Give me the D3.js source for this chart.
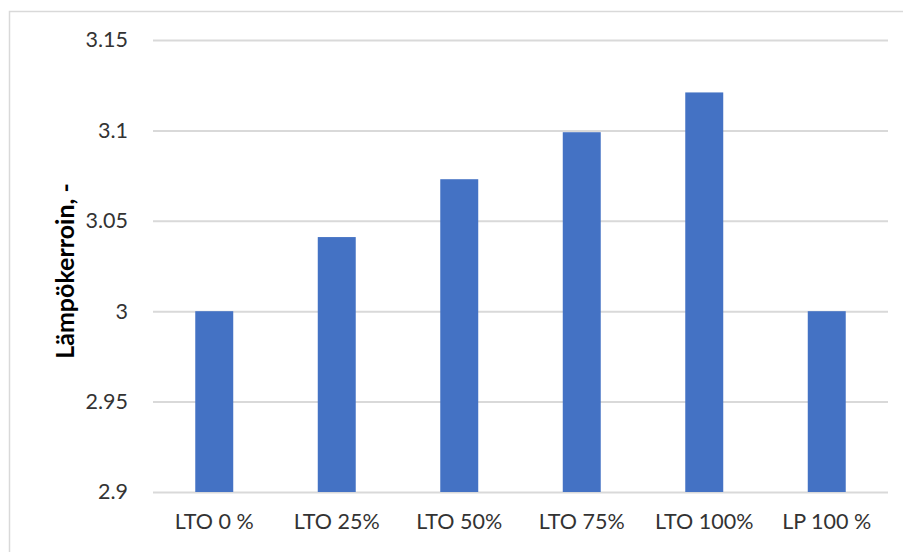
<!DOCTYPE html>
<html>
<head>
<meta charset="utf-8">
<script src="https://cdn.jsdelivr.net/npm/d3@7"></script>
<style>
  body { margin: 0; background: #fff; }
  .axis text { font-family: Lato, "Open Sans", sans-serif; font-size: 21.5px; fill: #333; }
  .grid line { stroke: #d9d9d9; stroke-width: 2; }
  .grid .domain { display: none; }
</style>
</head>
<body>
<div id="chart"></div>
<script>
var categories = ["LTO 0 %", "LTO 25%", "LTO 50%", "LTO 75%", "LTO 100%", "LP 100 %"];
var values = [3.0, 3.041, 3.073, 3.099, 3.121, 3.0];
var yTicks = [2.9, 2.95, 3, 3.05, 3.1, 3.15];
var yTitle = "Lämpökerroin, -";

var W = 903, H = 552;
var plot = { left: 153, right: 888, top: 40, bottom: 492 };

var svg = d3.select("#chart").append("svg")
    .attr("width", W)
    .attr("height", H);

// chart area border (bottom/right fall outside the picture)
svg.append("rect")
    .attr("x", 9.5).attr("y", 11.5)
    .attr("width", W + 20).attr("height", H + 20)
    .attr("fill", "none")
    .attr("stroke", "#d9d9d9")
    .attr("stroke-width", 1.5);

var x = d3.scaleBand()
    .domain(categories)
    .range([plot.left, plot.right])
    .paddingInner(0.69)
    .paddingOuter(0.345);

var y = d3.scaleLinear()
    .domain([2.9, 3.15])
    .range([plot.bottom, plot.top]);

// gridlines
svg.append("g")
    .attr("class", "grid")
    .attr("transform", "translate(" + plot.left + ",0)")
    .call(d3.axisRight(y).tickValues(yTicks).tickSize(plot.right - plot.left).tickFormat(""));

svg.append("g")
    .selectAll("rect")
    .data(values)
    .enter().append("rect")
    .attr("x", function(d, i) { return x(categories[i]); })
    .attr("y", function(d) { return y(d); })
    .attr("width", x.bandwidth())
    .attr("height", function(d) { return y(2.9) - y(d); })
    .attr("fill", "#4472c4");

var yAxis = svg.append("g")
    .attr("class", "axis")
    .attr("transform", "translate(" + (plot.left - 25) + ",0)")
    .call(d3.axisLeft(y).tickValues(yTicks).tickSize(0).tickPadding(0)
        .tickFormat(function(d) { return String(+d.toFixed(2)); }));
yAxis.select(".domain").remove();

var xAxis = svg.append("g")
    .attr("class", "axis")
    .attr("transform", "translate(0," + plot.bottom + ")")
    .call(d3.axisBottom(x).tickSize(0).tickPadding(22));
xAxis.select(".domain").remove();

svg.append("text")
    .attr("transform", "translate(74,271) rotate(-90)")
    .attr("text-anchor", "middle")
    .style("font-family", "Lato, 'Open Sans', sans-serif")
    .style("font-weight", "bold")
    .style("font-size", "25px")
    .style("fill", "#000")
    .text(yTitle);
</script>
</body>
</html>
